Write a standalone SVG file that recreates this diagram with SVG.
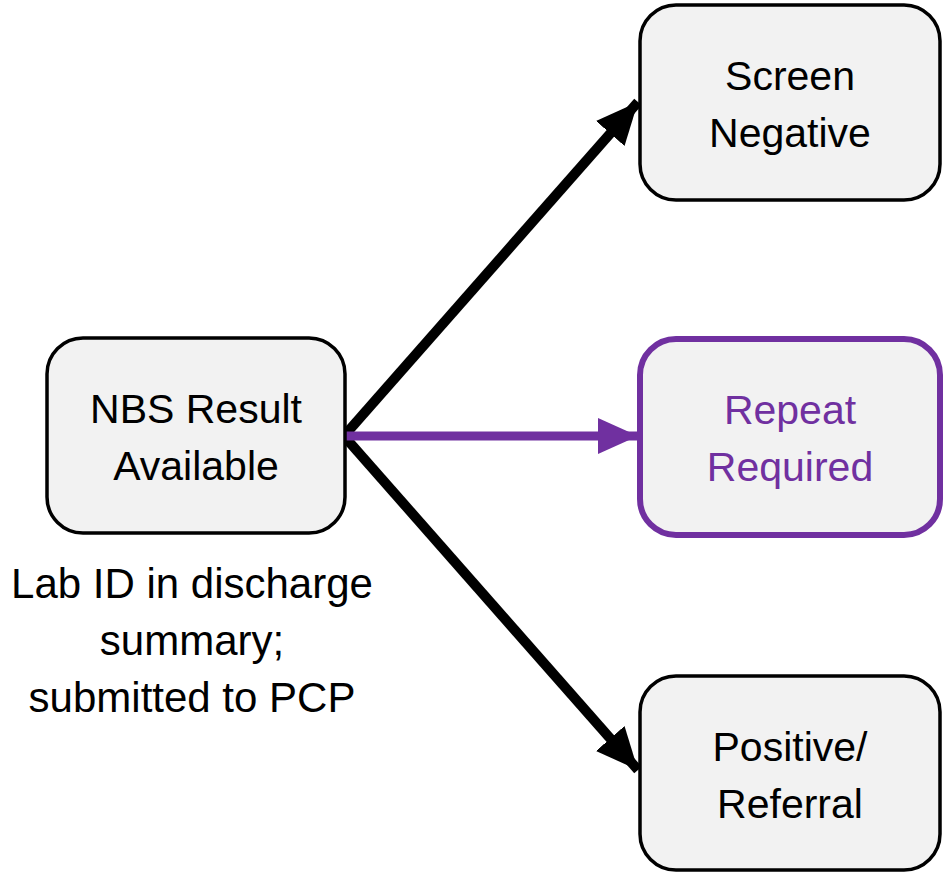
<svg xmlns="http://www.w3.org/2000/svg" width="946" height="872" viewBox="0 0 946 872">
<defs>
<style>
.box{fill:#f2f2f2;stroke:#000;stroke-width:3.5}
.pbox{fill:#f2f2f2;stroke:#7030a0;stroke-width:6}
text{font-family:"Liberation Sans",Arial,sans-serif;font-size:41px;text-anchor:middle;fill:#000}
.note{font-size:42px}
.p{fill:#7030a0}
</style>
<marker id="ab" markerUnits="userSpaceOnUse" markerWidth="44" markerHeight="44" viewBox="0 0 44 44" refX="42" refY="22" orient="auto"><path d="M0,3 L42,22 L0,41 Z" fill="#000"/></marker>
<marker id="ap" markerUnits="userSpaceOnUse" markerWidth="44" markerHeight="44" viewBox="0 0 44 44" refX="42" refY="22" orient="auto"><path d="M2,4 L42,22 L2,40 Z" fill="#7030a0"/></marker>
</defs>
<g id="connectors">
<line x1="344" y1="436" x2="638" y2="102" stroke="#000" stroke-width="10" marker-end="url(#ab)"/>
<line x1="344" y1="436" x2="638" y2="770" stroke="#000" stroke-width="10" marker-end="url(#ab)"/>
<line x1="346" y1="436" x2="638" y2="436" stroke="#7030a0" stroke-width="9" marker-end="url(#ap)"/>
</g>
<g id="nbs">
<rect class="box" x="47" y="338" width="298" height="195" rx="36"/>
<text x="196" y="423">NBS Result</text>
<text x="196" y="480">Available</text>
</g>
<g id="lab-note">
<text class="note" x="192" y="598">Lab ID in discharge</text>
<text class="note" x="192" y="655">summary;</text>
<text class="note" x="192" y="712">submitted to PCP</text>
</g>
<g id="neg">
<rect class="box" x="640" y="5" width="300" height="195" rx="36"/>
<text x="790" y="90">Screen</text>
<text x="790" y="147">Negative</text>
</g>
<g id="repeat">
<rect class="pbox" x="640" y="339" width="300" height="196" rx="36"/>
<text class="p" x="790" y="424">Repeat</text>
<text class="p" x="790" y="481">Required</text>
</g>
<g id="pos">
<rect class="box" x="640" y="676" width="300" height="194" rx="36"/>
<text x="790" y="761">Positive/</text>
<text x="790" y="818">Referral</text>
</g>
</svg>
